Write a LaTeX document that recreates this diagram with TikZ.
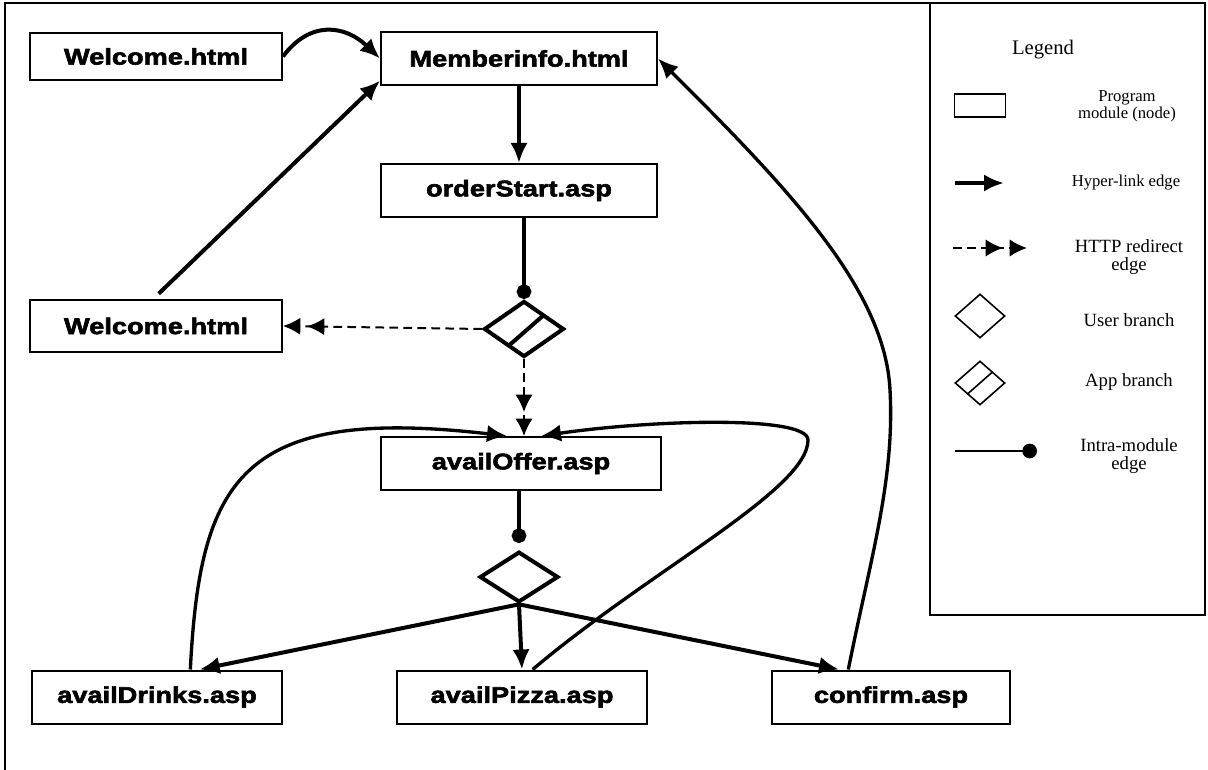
\documentclass[tikz,border=0pt]{standalone}
\usepackage{fontspec}
\setmainfont{Liberation Serif}
\newfontfamily\modfont{Liberation Sans}[FakeStretch=1.2,FakeBold=2.5]
\usetikzlibrary{arrows.meta,shapes.geometric,calc}

\begin{document}
\begin{tikzpicture}[x=0.75pt,y=-0.75pt,
  module/.style={draw,line width=1.5pt,inner sep=0pt,minimum height=39.75pt,
    font={\modfont\bfseries\fontsize{17}{19}\selectfont}},
  appbr/.style={diamond,draw,line width=3pt,inner sep=0pt,minimum width=60pt,minimum height=42pt},
  userbr/.style={diamond,draw,line width=3pt,inner sep=0pt,minimum width=59pt,minimum height=38pt},
  hyper/.style={line width=3pt,-{Latex[length=15pt,width=13pt]}},
  backlink/.style={line width=2.5pt,-{Latex[length=15pt,width=13pt]}},
  redir/.style={line width=1.5pt,dash pattern=on 6.5pt off 4pt,
    -{Latex[length=13pt,width=13pt,sep=5pt]Latex[length=13pt,width=13pt]}},
  intra/.style={line width=3pt,-{Circle[length=11pt]}},
  legtext/.style={align=center,font=\fontsize{14}{14}\selectfont},
  legsmall/.style={align=center,font=\fontsize{12.5}{13}\selectfont},
  legshape/.style={draw,line width=1.2pt,inner sep=0pt}
]
\useasboundingbox (0,0) rectangle (1208,770);

% frame and legend box
\draw[line width=1.2pt] (5,770) -- (5,3) -- (1205,3) -- (1205,615) -- (930,615) -- (930,3);

% program modules
\node[module,minimum width=189pt,minimum height=35pt] (wel1) at (156,56.5) {Welcome.html};
\node[module,minimum width=207pt] (mem) at (519,58.5) {Memberinfo.html};
\node[module,minimum width=207pt] (ord) at (519,190.5) {orderStart.asp};
\node[module,minimum width=189pt,minimum height=39pt] (wel2) at (156,326) {Welcome.html};
\node[appbr] (app) at (524,329) {};
\draw[line width=3pt,shorten <=2pt,shorten >=2pt] ($(app.north)!.5!(app.east)$) -- ($(app.south)!.4!(app.west)$);
\node[module,minimum width=210pt] (offer) at (521,463.5) {availOffer.asp};
\node[userbr] (user) at (519,577) {};
\node[module,minimum width=187.5pt] (drinks) at (157,697) {availDrinks.asp};
\node[module,minimum width=187.5pt] (pizza) at (522,697) {availPizza.asp};
\node[module,minimum width=178.5pt] (conf) at (891,697) {confirm.asp};

% edges
\draw[hyper] (wel1.east) .. controls (310,20) and (345,25) .. (mem.west);
\draw[hyper] ([xshift=2pt,yshift=4pt]wel2.north) -- ([yshift=4pt]mem.south west);
\draw[hyper] (mem.south) -- (ord.north);
\draw[intra] (ord.south -| app.north) -- (app.north);
\draw[redir] (app.west) -- (wel2.east);
\draw[redir] (app.south) -- (offer.north -| app.south);
\draw[intra,shorten >=5pt] (offer.south -| user.north) -- (user.north);
\draw[hyper] (user.south) -- ([xshift=32pt]drinks.north);
\draw[hyper] (user.south) -- (pizza.north);
\draw[hyper] (user.south) -- ([xshift=-39pt]conf.north);
\draw[backlink] ([xshift=25pt]drinks.north) .. controls (200,480) and (240,405) .. ([xshift=-10.5pt]offer.north);
\draw[backlink] ([xshift=8pt]pizza.north) .. controls (650,570) and (808,490) .. (808,440)
  .. controls (808,415) and (650,420) .. ([xshift=15pt]offer.north);
\draw[backlink] ([xshift=-32pt]conf.north) .. controls (870,560) and (895,480) .. (890,390)
  .. controls (885,290) and (790,190) .. (mem.east);

% legend
\node[font=\fontsize{15.5}{18}\selectfont] (legtitle) at (1043,50) {Legend};
\node[legshape,minimum width=38pt,minimum height=17pt] (legmod) at (980,105.5) {};
\node[legsmall] (legmodtxt) at (1127,106) {Program\\module (node)};
\coordinate (lh1) at (955,183);
\coordinate (lh2) at (1004,183);
\draw[hyper] (lh1) -- (lh2);
\node[legsmall] (lhtxt) at (1126,183) {Hyper-link edge};
\coordinate (lr1) at (953,248);
\coordinate (lr2) at (1027,248);
\draw[redir] (lr1) -- (lr2);
\node[legtext] (lrtxt) at (1129,257) {HTTP redirect\\edge};
\node[legshape,diamond,minimum width=37.5pt,minimum height=33pt] (leguser) at (980,316) {};
\node[legtext] (lutxt) at (1129,320) {User branch};
\node[legshape,diamond,minimum width=37.5pt,minimum height=33pt] (legapp) at (980,383) {};
\draw[line width=1.2pt] ($(legapp.north)!.5!(legapp.east)$) -- ($(legapp.south)!.5!(legapp.west)$);
\node[legtext] (latxt) at (1129,382) {App branch};
\coordinate (li1) at (955,451);
\coordinate (li2) at (1037,451);
\draw[line width=1.5pt,-{Circle[length=11pt]}] (li1) -- (li2);
\node[legtext] (litxt) at (1129,456) {Intra-module\\edge};
\end{tikzpicture}
\end{document}
